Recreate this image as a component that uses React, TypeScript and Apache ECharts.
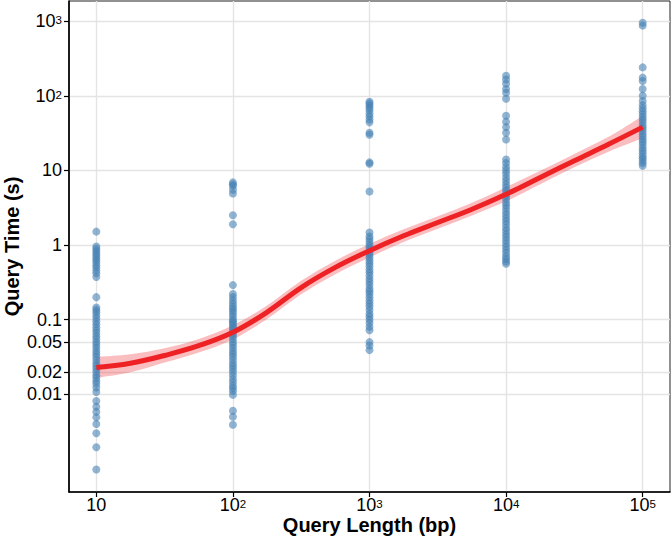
import React, { useEffect, useRef } from 'react';
import * as echarts from 'echarts';

// Axis ticks (values in original units)
const xTickLengths = [10, 100, 1000, 10000, 100000];
const xTickLabels = ['{base|10}', '{base|10}{sup|2}', '{base|10}{sup|3}', '{base|10}{sup|4}', '{base|10}{sup|5}'];
const yTickTimes = [0.01, 0.02, 0.05, 0.1, 1, 10, 100, 1000];
const yTickLabels = ['{base|0.01}', '{base|0.02}', '{base|0.05}', '{base|0.1}', '{base|1}', '{base|10}', '{base|10}{sup|2}', '{base|10}{sup|3}'];

// Query lengths (bp) of each group
const queryLengths = [10, 100, 1000, 10000, 100000];

// Query times (s) per query length
const time10 = [
  1.51, 0.955, 0.891, 0.832, 0.776, 0.724, 0.676, 0.631, 0.589, 0.537, 0.501, 0.457, 0.417, 0.372,
  0.2, 0.145, 0.135, 0.126, 0.115, 0.105, 0.095, 0.087, 0.079, 0.072, 0.066, 0.06, 0.055, 0.05,
  0.046, 0.042, 0.038, 0.035, 0.032, 0.029, 0.026, 0.024, 0.022, 0.02, 0.018, 0.0166, 0.0151,
  0.0138, 0.0123, 0.0107, 0.0081, 0.0068, 0.0058, 0.0049, 0.004, 0.003, 0.00195, 0.00098,
];
const time100 = [
  6.9, 6.5, 6.2, 5.5, 4.9, 2.5, 1.9, 0.29, 0.22, 0.2, 0.18, 0.165, 0.15, 0.14, 0.13, 0.12, 0.11,
  0.1, 0.095, 0.09, 0.085, 0.08, 0.075, 0.07, 0.065, 0.06, 0.055, 0.05, 0.046, 0.042, 0.038,
  0.035, 0.032, 0.029, 0.026, 0.024, 0.022, 0.02, 0.018, 0.016, 0.0145, 0.013, 0.012, 0.011,
  0.0098, 0.006, 0.005, 0.0039,
];
const time1000 = [
  83, 79, 74, 69, 64, 58, 53, 48, 44, 32, 30, 12.8, 12.3, 5.2, 1.47, 1.3, 1.2, 1.1, 1.0, 0.93,
  0.86, 0.8, 0.74, 0.68, 0.62, 0.57, 0.52, 0.47, 0.43, 0.39, 0.35, 0.32, 0.29, 0.26, 0.24, 0.22,
  0.2, 0.18, 0.165, 0.15, 0.135, 0.12, 0.11, 0.1, 0.09, 0.08, 0.072, 0.05, 0.045, 0.039,
];
const time10000 = [
  185, 165, 145, 123, 110, 91, 54, 45, 38, 32, 26, 14, 12.5, 11, 10, 9, 8, 7.2, 6.5, 5.9, 5.4,
  4.9, 4.5, 4.1, 3.7, 3.4, 3.1, 2.8, 2.55, 2.3, 2.1, 1.9, 1.7, 1.55, 1.4, 1.28, 1.16, 1.05, 0.95,
  0.86, 0.78, 0.7, 0.65, 0.6, 0.56,
];
const time100000 = [
  950, 870, 240, 175, 158, 123, 100, 85, 75, 68, 62, 57, 52, 48, 44, 40, 37, 34, 31, 28.5, 26,
  24, 22, 20, 18.5, 17, 15.5, 14.5, 13.5, 12.5, 11.5,
];
const queryTimes = [time10, time100, time1000, time10000, time100000];

// Smoothed fit and its confidence band (s) along query length (bp)
const fitLength = [10, 17.8, 31.6, 56.2, 100, 178, 316, 562, 1000, 1778, 3162, 5623, 10000, 17783, 31623, 56234, 100000];
const fitTime = [0.0229, 0.026, 0.0331, 0.0447, 0.0676, 0.126, 0.269, 0.501, 0.839, 1.33, 2.0, 3.02, 4.79, 8.04, 13.5, 22.4, 38.0];
const fitLower = [0.0166, 0.0197, 0.0266, 0.0363, 0.0543, 0.102, 0.219, 0.407, 0.682, 1.1, 1.65, 2.48, 3.85, 6.53, 11.0, 17.8, 26.9];
const fitUpper = [0.0316, 0.0343, 0.0412, 0.055, 0.0841, 0.155, 0.331, 0.617, 1.03, 1.62, 2.42, 3.67, 5.94, 9.89, 16.6, 28.2, 53.7];

const L = (v: number) => Math.log10(v);

function labelFor(ticks: number[], labels: string[], value: number): string {
  for (let i = 0; i < ticks.length; i++) {
    if (Math.abs(L(ticks[i]) - value) < 1e-6) return labels[i];
  }
  return '';
}

// Catmull-Rom spline through pixel points, as SVG path commands
function splinePath(pts: number[][], move: boolean): string {
  let d = (move ? 'M' : 'L') + pts[0][0] + ',' + pts[0][1];
  for (let i = 0; i < pts.length - 1; i++) {
    const p0 = pts[i - 1] || pts[i];
    const p1 = pts[i];
    const p2 = pts[i + 1];
    const p3 = pts[i + 2] || pts[i + 1];
    const c1x = p1[0] + (p2[0] - p0[0]) / 6;
    const c1y = p1[1] + (p2[1] - p0[1]) / 6;
    const c2x = p2[0] - (p3[0] - p1[0]) / 6;
    const c2y = p2[1] - (p3[1] - p1[1]) / 6;
    d += ' C' + c1x + ',' + c1y + ' ' + c2x + ',' + c2y + ' ' + p2[0] + ',' + p2[1];
  }
  return d;
}

const FONT = 'Liberation Sans, Arial, Helvetica, sans-serif';

export default function App() {
  const ref = useRef<HTMLDivElement>(null);

  useEffect(() => {
    const chart = echarts.init(ref.current!, null, { renderer: 'svg' });

    const scatterData: number[][] = [];
    queryLengths.forEach((len, gi) => {
      queryTimes[gi].forEach((t) => scatterData.push([L(len), L(t)]));
    });

    const xTicks = xTickLengths.map(L);
    const yTicks = yTickTimes.map(L);

    const rich = {
      base: { fontSize: 18, lineHeight: 14, fontFamily: FONT, color: '#000' },
      sup: { fontSize: 11.5, lineHeight: 14, verticalAlign: 'top', fontFamily: FONT, color: '#000' },
    };

    chart.setOption({
      animation: false,
      backgroundColor: '#fff',
      grid: {
        left: 69,
        right: 1,
        top: 1,
        bottom: 50,
        show: true,
        borderColor: '#222',
        borderWidth: 1,
        backgroundColor: 'transparent',
        containLabel: false,
        outerBoundsMode: 'none',
      },
      xAxis: {
        type: 'value',
        min: 0.8,
        max: 5.2,
        axisLine: { show: true, onZero: false, lineStyle: { color: '#000', width: 1.6 } },
        axisTick: { show: true, customValues: xTicks, length: 5, lineStyle: { color: '#000', width: 1.2 } },
        axisLabel: {
          customValues: xTicks,
          formatter: (v: number) => labelFor(xTickLengths, xTickLabels, v),
          color: '#000',
          fontSize: 18,
          fontFamily: FONT,
          margin: 6,
          rich,
        },
        splitLine: { show: true, lineStyle: { color: '#E4E4E4', width: 1.4 } },
        name: 'Query Length (bp)',
        nameLocation: 'middle',
        nameGap: 25,
        nameMoveOverlap: false,
        nameTextStyle: { fontSize: 20, lineHeight: 16, fontWeight: 'bold', color: '#000', fontFamily: FONT },
      },
      yAxis: {
        type: 'value',
        min: -3.31,
        max: 3.27,
        axisLine: { show: true, onZero: false, lineStyle: { color: '#000', width: 1.6 } },
        axisTick: { show: true, customValues: yTicks, length: 5, lineStyle: { color: '#000', width: 1.2 } },
        axisLabel: {
          customValues: yTicks,
          formatter: (v: number) => labelFor(yTickTimes, yTickLabels, v),
          color: '#000',
          fontSize: 18,
          fontFamily: FONT,
          margin: 7,
          rich,
        },
        splitLine: { show: true, lineStyle: { color: '#E4E4E4', width: 1.4 } },
        name: 'Query Time (s)',
        nameLocation: 'middle',
        nameGap: 47,
        nameMoveOverlap: false,
        nameRotate: 90,
        nameTextStyle: { fontSize: 20, fontWeight: 'bold', color: '#000', fontFamily: FONT },
      },
      series: [
        {
          type: 'scatter',
          data: scatterData,
          symbolSize: 8,
          itemStyle: { color: '#4682B4', opacity: 0.6 },
          silent: true,
        },
        {
          type: 'custom',
          data: [0],
          silent: true,
          renderItem: (_params: any, api: any) => {
            const up = fitLength.map((x, i) => api.coord([L(x), L(fitUpper[i])]));
            const lo = fitLength.map((x, i) => api.coord([L(x), L(fitLower[i])])).reverse();
            const d = splinePath(up, true) + ' ' + splinePath(lo, false) + ' Z';
            return {
              type: 'path',
              shape: { pathData: d },
              style: { fill: 'rgba(238,40,45,0.3)', stroke: 'none' },
            };
          },
        },
        {
          type: 'line',
          data: fitLength.map((x, i) => [L(x), L(fitTime[i])]),
          smooth: 0.4,
          symbol: 'none',
          lineStyle: { color: '#EE2224', width: 5 },
          silent: true,
        },
      ],
    });

    return () => chart.dispose();
  }, []);

  return (
    <div
      ref={ref}
      style={{ position: 'fixed', left: 0, top: 0, width: 671, height: 542, background: '#fff' }}
    />
  );
}
